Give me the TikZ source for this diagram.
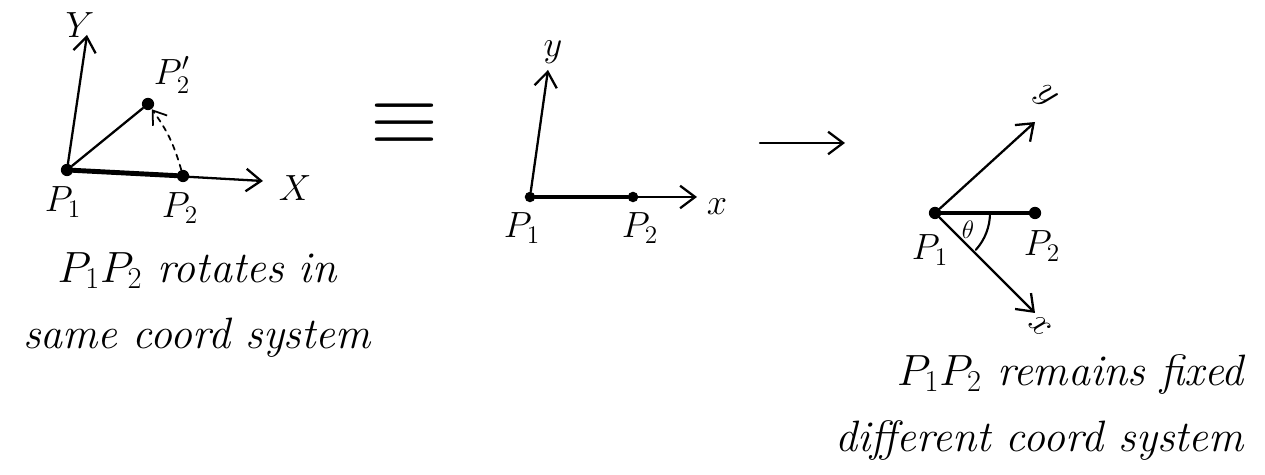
\documentclass[tikz,border=0pt]{standalone}
\usetikzlibrary{arrows.meta}

\tikzset{
  dot/.style={circle, fill, inner sep=0pt, minimum size=7pt},
  axis/.style={line width=1.3pt, -{Straight Barb[length=3mm, width=4.5mm]}},
  seg/.style={line width=2.8pt},
  caption/.style={font=\fontsize{25}{38}\selectfont\itshape},
}

\begin{document}
\begin{tikzpicture}[font=\fontsize{20}{24}\selectfont, x=0.02cm, y=0.02cm, line cap=round]
  \useasboundingbox (0,0) rectangle (1265,-475);
  \node[dot] (a1) at (67,-170) {};
  \node[dot] (a2) at (183,-176) {};
  \node[dot] (a2r) at (148,-104) {};
  \coordinate (ax) at (263,-181);
  \coordinate (ay) at (87,-35);
  \draw[axis] (a1) -- (ay);
  \draw[axis] (a1) -- (ax);
  \draw[seg] (a1) -- (a2);
  \draw[line width=1.3pt] (a1) -- (a2r);
  \draw[dashed, line width=1pt, -{Straight Barb[length=2.5mm, width=3.5mm]}] (a2) to[bend right=10] (a2r);
  \node (ayl) at (80,-25) {$Y$};
  \node (axl) at (295,-188) {$X$};
  \node (a1l) at (63,-202) {$P_1$};
  \node (a2l) at (180,-208) {$P_2$};
  \node (a2rl) at (172,-75) {$P_2'$};
  \node[caption, align=center] (capl) at (197,-305) {$P_1P_2$ rotates in\\same coord system};

  \node[scale=2.4] (eq) at (405,-124) {$\equiv$};

  \node[dot, minimum size=6pt] (b1) at (530,-197) {};
  \node[dot, minimum size=6pt] (b2) at (633,-197) {};
  \coordinate (bx) at (697,-197);
  \coordinate (by) at (548,-70);
  \draw[axis] (b1) -- (by);
  \draw[axis] (b1) -- (bx);
  \draw[seg] (b1) -- (b2);
  \node (byl) at (553,-52) {$y$};
  \node (bxl) at (717,-207) {$x$};
  \node (b1l) at (522,-228) {$P_1$};
  \node (b2l) at (640,-228) {$P_2$};

  \coordinate (go1) at (760,-143);
  \coordinate (go2) at (845,-143);
  \draw[axis] (go1) -- (go2);

  \node[dot] (c1) at (935,-213) {};
  \node[dot] (c2) at (1035,-213) {};
  \coordinate (cy) at (1035,-122);
  \coordinate (cx) at (1035,-313);
  \draw[axis] (c1) -- (cy);
  \draw[axis] (c1) -- (cx);
  \draw[seg] (c1) -- (c2);
  \draw[line width=1.2pt] ([shift={(0:55)}]c1.center) arc[start angle=0, end angle=-42, radius=55];
  \node[rotate=-45] (cyl) at (1045,-97) {$y$};
  \node[rotate=-45] (cxl) at (1040,-326) {$x$};
  \node (c1l) at (930,-250) {$P_1$};
  \node (c2l) at (1042,-246) {$P_2$};
  \node[font=\fontsize{14}{16}\selectfont] (th) at (968,-230) {$\theta$};
  \node[caption, align=right, anchor=north east] (capr) at (1250,-348) {$P_1P_2$ remains fixed\\different coord system};
\end{tikzpicture}
\end{document}
